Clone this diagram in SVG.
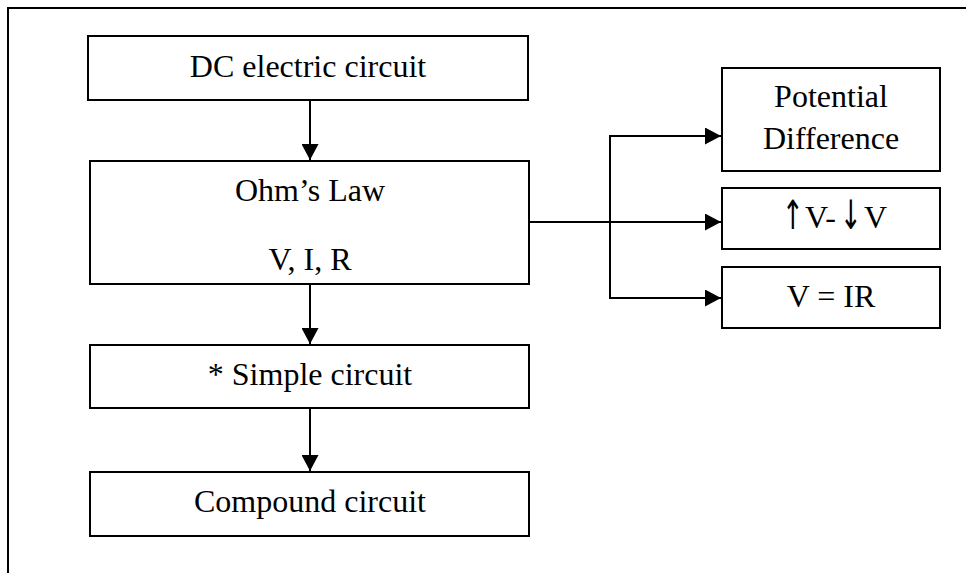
<svg xmlns="http://www.w3.org/2000/svg" width="966" height="573" viewBox="0 0 966 573">
<style>
.box{fill:#fff;stroke:#000;stroke-width:2}
.t{font-family:"Liberation Serif","Times New Roman",serif;font-size:32px;fill:#000;text-anchor:middle}
.s{font-family:"Liberation Serif","Times New Roman",serif;font-size:32px;fill:#000}
.ar{font-family:"DejaVu Sans",sans-serif;font-size:26px;fill:#000;text-anchor:middle}
.c{fill:none;stroke:#000;stroke-width:2}
</style>
<defs>
<marker id="ah" viewBox="0 0 16 17" refX="16" refY="8.5" markerWidth="16" markerHeight="17" markerUnits="userSpaceOnUse" orient="auto">
<path d="M0,0 L16,8.5 L0,17 Z" fill="#000"/>
</marker>
</defs>
<rect width="966" height="573" fill="#fff"/>
<path d="M8,590 L8,8 L980,8" class="c"/>
<g id="n1"><rect class="box" x="88" y="36" width="440" height="64"/><text class="t" x="308" y="77">DC electric circuit</text></g>
<g id="n2"><rect class="box" x="90" y="161" width="439" height="123"/><text class="t" x="310" y="201">Ohm’s Law</text><text class="t" x="310" y="270">V, I, R</text></g>
<g id="n3"><rect class="box" x="90" y="345" width="439" height="63"/><text class="t" x="310" y="385">* Simple circuit</text></g>
<g id="n4"><rect class="box" x="90" y="472" width="439" height="64"/><text class="t" x="310" y="512">Compound circuit</text></g>
<g id="n5"><rect class="box" x="722" y="68" width="218" height="103"/><text class="t" x="831" y="107">Potential</text><text class="t" x="831" y="149">Difference</text></g>
<g id="n6"><rect class="box" x="722" y="188" width="218" height="61"/>
<text class="ar" transform="translate(793,229) scale(1,1.55)">↑</text>
<text class="s" x="805" y="228">V-</text>
<text class="ar" transform="translate(851,229) scale(1,1.55)">↓</text>
<text class="s" x="864" y="228">V</text>
</g>
<g id="n7"><rect class="box" x="722" y="267" width="218" height="61"/><text class="t" x="831" y="307">V = IR</text></g>
<g id="connectors">
<line class="c" x1="310" y1="100" x2="310" y2="160" marker-end="url(#ah)"/>
<line class="c" x1="310" y1="284" x2="310" y2="344" marker-end="url(#ah)"/>
<line class="c" x1="310" y1="408" x2="310" y2="471" marker-end="url(#ah)"/>
<line class="c" x1="529" y1="222" x2="721" y2="222" marker-end="url(#ah)"/>
<path class="c" d="M721,136 L610,136 L610,298 L721,298"/>
<line class="c" x1="700" y1="136" x2="721" y2="136" marker-end="url(#ah)"/>
<line class="c" x1="700" y1="298" x2="721" y2="298" marker-end="url(#ah)"/>
</g>
</svg>
